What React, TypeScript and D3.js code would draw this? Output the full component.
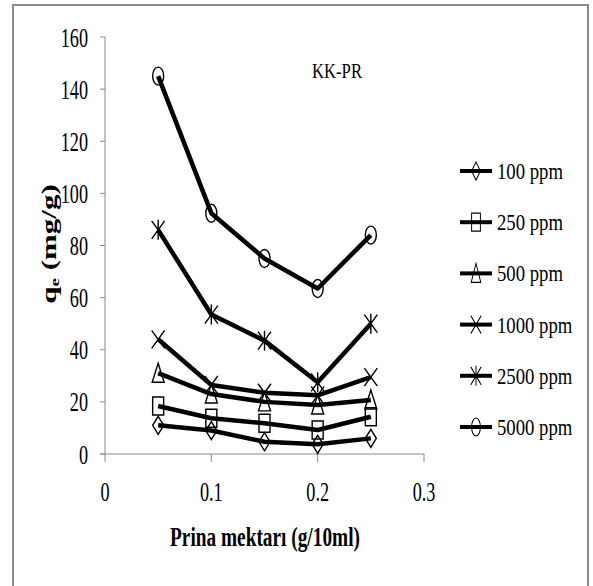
import React from 'react';
import * as d3 from 'd3';

// adsorbent dose (g/10ml)
const DOSES = [0.05, 0.1, 0.15, 0.2, 0.25];

// qe (mg/g) for each initial concentration
const Q_100 = [11, 9, 4.7, 3.7, 6];
const Q_250 = [18.4, 13.7, 11.8, 9.2, 14.3];
const Q_500 = [31, 23, 20, 18.8, 20.7];
const Q_1000 = [44, 26.5, 23.5, 22.5, 29.5];
const Q_2500 = [86, 53.5, 43.5, 27.5, 50];
const Q_5000 = [145, 92.4, 75, 63.5, 84];

const SERIES_NAMES = ['100 ppm', '250 ppm', '500 ppm', '1000 ppm', '2500 ppm', '5000 ppm'];
const SERIES_VALUES = [Q_100, Q_250, Q_500, Q_1000, Q_2500, Q_5000];
const SERIES_MARKERS = ['diamond', 'square', 'triangle', 'cross', 'star', 'circle'];

const X_TICKS = [0, 0.1, 0.2, 0.3];
const Y_TICKS = [0, 20, 40, 60, 80, 100, 120, 140, 160];

const FONT = '"Liberation Serif", "Times New Roman", serif';
const AXIS_GREY = '#8a8a8a';

const markerPath = (type: string) => {
  const w = 5.5;
  const h = 9;
  switch (type) {
    case 'diamond':
      return `M0,${-h}L${w},0L0,${h}L${-w},0Z`;
    case 'square':
      return `M${-w},${-h}H${w}V${h}H${-w}Z`;
    case 'triangle':
      return `M0,${-h - 1}L${w + 0.5},${h}L${-w - 0.5},${h}Z`;
    case 'cross':
      return `M${-w - 1},${-h}L${w + 1},${h}M${w + 1},${-h}L${-w - 1},${h}`;
    case 'star':
      return `M${-w - 1},${-h}L${w + 1},${h}M${w + 1},${-h}L${-w - 1},${h}M0,${-h - 1}V${h + 1}`;
    default:
      return `M${-w},0A${w},${h} 0 1 0 ${w},0A${w},${h} 0 1 0 ${-w},0Z`;
  }
};

const Label = ({ x, y, sx, size, anchor = 'start', bold = false, children }: any) => (
  <text
    transform={`translate(${x},${y}) scale(${sx},1)`}
    textAnchor={anchor}
    fontFamily={FONT}
    fontSize={size}
    fontWeight={bold ? 'bold' : 'normal'}
    fill="#000"
  >
    {children}
  </text>
);

export default function App() {
  const x = d3.scaleLinear().domain([0, 0.3]).range([105, 424]);
  const y = d3.scaleLinear().domain([0, 160]).range([454, 37]);
  const line = d3
    .line<number>()
    .x((_, i) => x(DOSES[i]))
    .y(d => y(d));

  const legendY = d3.scalePoint<number>().domain(d3.range(SERIES_NAMES.length)).range([171, 427]);

  return (
    <svg
      width={593}
      height={586}
      style={{ position: 'absolute', left: 0, top: 0, background: '#fff' }}
    >
      <rect x={13} y={5} width={575} height={600} fill="#fff" stroke={AXIS_GREY} strokeWidth={2} />

      {/* y axis */}
      <line x1={105} x2={105} y1={y(0)} y2={y(160)} stroke={AXIS_GREY} strokeWidth={1} />
      {Y_TICKS.map(t => (
        <g key={`y${t}`}>
          <line x1={100} x2={105} y1={y(t)} y2={y(t)} stroke={AXIS_GREY} strokeWidth={1} />
          <Label x={88} y={y(t) + 9.5} sx={0.65} size={28} anchor="end">
            {t}
          </Label>
        </g>
      ))}

      {/* x axis */}
      <line x1={100} x2={x(0.3)} y1={y(0)} y2={y(0)} stroke={AXIS_GREY} strokeWidth={1} />
      {X_TICKS.map(t => (
        <g key={`x${t}`}>
          <line x1={x(t)} x2={x(t)} y1={y(0)} y2={y(0) + 8} stroke={AXIS_GREY} strokeWidth={1} />
          <Label x={x(t)} y={501} sx={0.65} size={28} anchor="middle">
            {t}
          </Label>
        </g>
      ))}

      {/* axis titles */}
      <Label x={265} y={546} sx={0.69} size={28} anchor="middle" bold>
        Prina mektarı (g/10ml)
      </Label>
      <text
        transform="translate(56,244) rotate(-90) scale(1,0.66)"
        textAnchor="middle"
        fontFamily={FONT}
        fontSize={31}
        fontWeight="bold"
      >
        q<tspan fontSize={19} dy={5}>e</tspan>
        <tspan dy={-5}> (mg/g)</tspan>
      </text>

      <Label x={337} y={78} sx={0.76} size={22} anchor="middle">
        KK-PR
      </Label>

      {/* series */}
      {SERIES_VALUES.map((vals, s) => (
        <g key={SERIES_NAMES[s]}>
          <path d={line(vals) || ''} fill="none" stroke="#000" strokeWidth={4.5} strokeLinejoin="round" />
          {vals.map((v, i) => (
            <path
              key={i}
              d={markerPath(SERIES_MARKERS[s])}
              transform={`translate(${x(DOSES[i])},${y(v)})`}
              fill="none"
              stroke="#000"
              strokeWidth={1.4}
            />
          ))}
        </g>
      ))}

      {/* legend */}
      {SERIES_NAMES.map((name, s) => {
        const ly = legendY(s) as number;
        return (
          <g key={`lg${name}`}>
            <line x1={460} x2={492} y1={ly} y2={ly} stroke="#000" strokeWidth={4} />
            <path
              d={markerPath(SERIES_MARKERS[s])}
              transform={`translate(476,${ly}) scale(0.8,1)`}
              fill="none"
              stroke="#000"
              strokeWidth={1.2}
            />
            <Label x={497} y={ly + 8} sx={0.78} size={24}>
              {name}
            </Label>
          </g>
        );
      })}
    </svg>
  );
}
